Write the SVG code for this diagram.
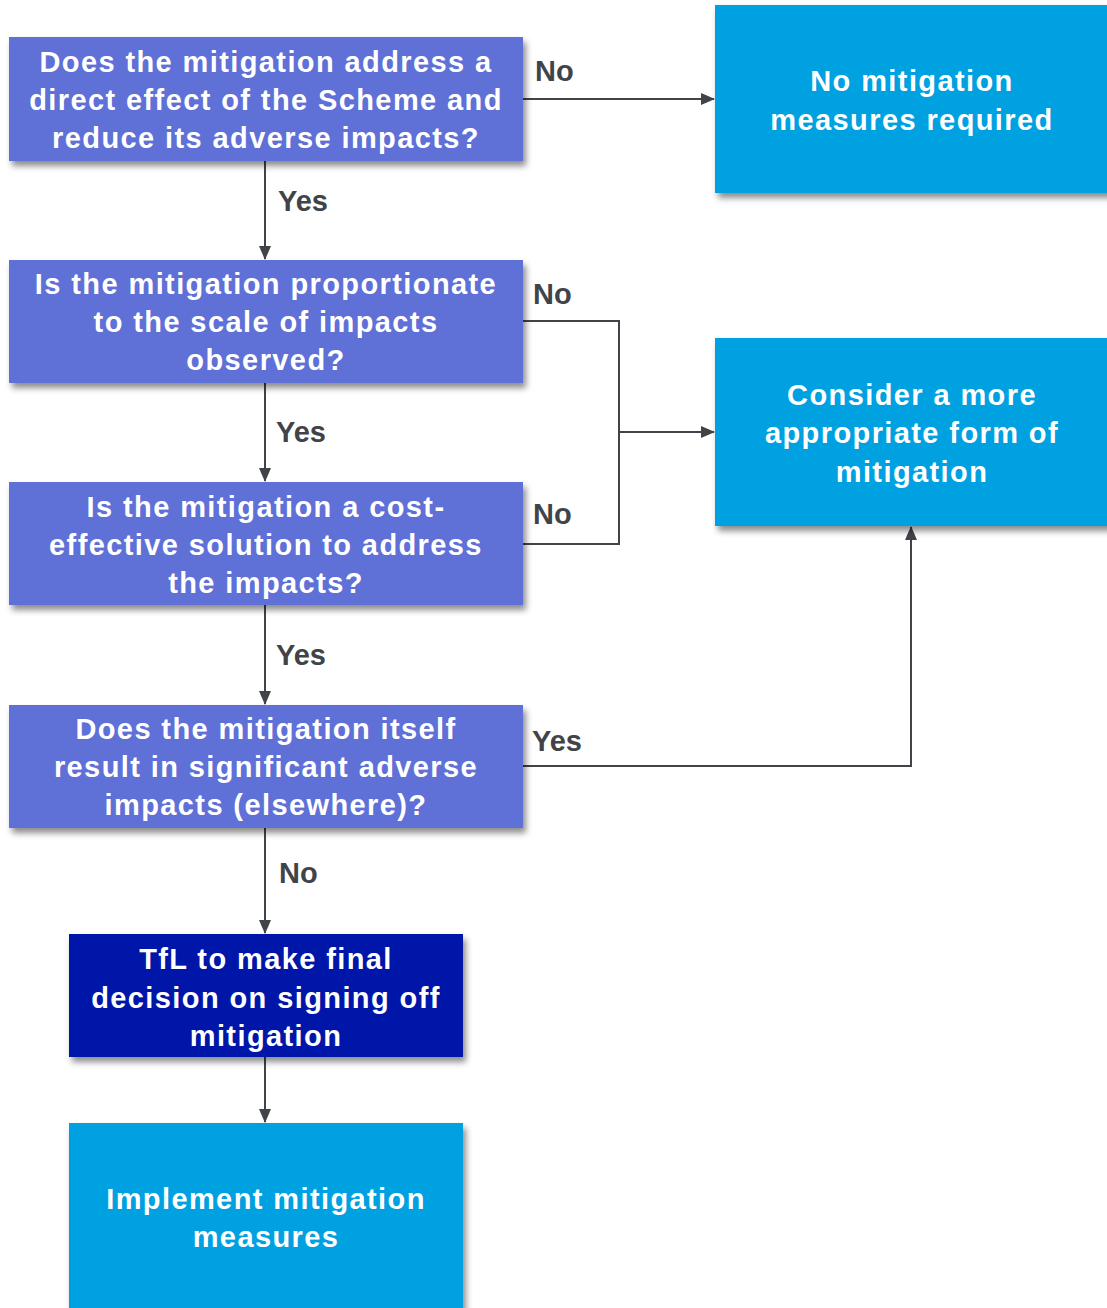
<svg xmlns="http://www.w3.org/2000/svg" width="1107" height="1308" viewBox="0 0 1107 1308">
<defs>
<style>
.q{fill:#5F70D7}
.b{fill:#00A1E0}
.d{fill:#0019A8}
.t{font-family:"Liberation Sans",Arial,sans-serif;font-weight:bold;font-size:29px;letter-spacing:1.4px;fill:#fff;text-anchor:middle}
.l{font-family:"Liberation Sans",Arial,sans-serif;font-weight:bold;font-size:29px;fill:#404449}
.c{fill:none;stroke:#404449;stroke-width:2}
</style>
<filter id="sh" x="-10%" y="-10%" width="130%" height="140%">
<feDropShadow dx="3" dy="5" stdDeviation="3" flood-color="#000" flood-opacity="0.45"/>
</filter>
<marker id="ar" markerWidth="14" markerHeight="14" refX="13" refY="7" orient="auto" markerUnits="userSpaceOnUse">
<path d="M0,1 L14,7 L0,13 Z" fill="#404449"/>
</marker>
</defs>
<rect width="1107" height="1308" fill="#fff"/>
<g id="connectors">
<path class="c" d="M523,99 H714" marker-end="url(#ar)"/>
<path class="c" d="M265,161 V259" marker-end="url(#ar)"/>
<path class="c" d="M523,321 H619 V544 H523"/>
<path class="c" d="M619,432 H714" marker-end="url(#ar)"/>
<path class="c" d="M265,383 V481" marker-end="url(#ar)"/>
<path class="c" d="M265,605 V704" marker-end="url(#ar)"/>
<path class="c" d="M523,766 H911 V527" marker-end="url(#ar)"/>
<path class="c" d="M265,828 V933" marker-end="url(#ar)"/>
<path class="c" d="M265,1057 V1122" marker-end="url(#ar)"/>
<text class="l" x="535" y="81">No</text>
<text class="l" x="278" y="211">Yes</text>
<text class="l" x="533" y="304">No</text>
<text class="l" x="276" y="442">Yes</text>
<text class="l" x="533" y="524">No</text>
<text class="l" x="276" y="665">Yes</text>
<text class="l" x="532" y="751">Yes</text>
<text class="l" x="279" y="883">No</text>
</g>
<g id="q1">
<rect class="q" x="9" y="37" width="514" height="124" filter="url(#sh)"/>
<text class="t" x="266" y="72">Does the mitigation address a</text>
<text class="t" x="266" y="110">direct effect of the Scheme and</text>
<text class="t" x="266" y="148">reduce its adverse impacts?</text>
</g>
<g id="nomit">
<rect class="b" x="715" y="5" width="400" height="188" filter="url(#sh)"/>
<text class="t" x="912" y="91">No mitigation</text>
<text class="t" x="912" y="130">measures required</text>
</g>
<g id="q2">
<rect class="q" x="9" y="260" width="514" height="123" filter="url(#sh)"/>
<text class="t" x="266" y="294">Is the mitigation proportionate</text>
<text class="t" x="266" y="332">to the scale of impacts</text>
<text class="t" x="266" y="370">observed?</text>
</g>
<g id="consider">
<rect class="b" x="715" y="338" width="400" height="188" filter="url(#sh)"/>
<text class="t" x="912" y="405">Consider a more</text>
<text class="t" x="912" y="443">appropriate form of</text>
<text class="t" x="912" y="482">mitigation</text>
</g>
<g id="q3">
<rect class="q" x="9" y="482" width="514" height="123" filter="url(#sh)"/>
<text class="t" x="266" y="517">Is the mitigation a cost-</text>
<text class="t" x="266" y="555">effective solution to address</text>
<text class="t" x="266" y="593">the impacts?</text>
</g>
<g id="q4">
<rect class="q" x="9" y="705" width="514" height="123" filter="url(#sh)"/>
<text class="t" x="266" y="739">Does the mitigation itself</text>
<text class="t" x="266" y="777">result in significant adverse</text>
<text class="t" x="266" y="815">impacts (elsewhere)?</text>
</g>
<g id="tfl">
<rect class="d" x="69" y="934" width="394" height="123" filter="url(#sh)"/>
<text class="t" x="266" y="969">TfL to make final</text>
<text class="t" x="266" y="1008">decision on signing off</text>
<text class="t" x="266" y="1046">mitigation</text>
</g>
<g id="implement">
<rect class="b" x="69" y="1123" width="394" height="200" filter="url(#sh)"/>
<text class="t" x="266" y="1209">Implement mitigation</text>
<text class="t" x="266" y="1247">measures</text>
</g>
</svg>
